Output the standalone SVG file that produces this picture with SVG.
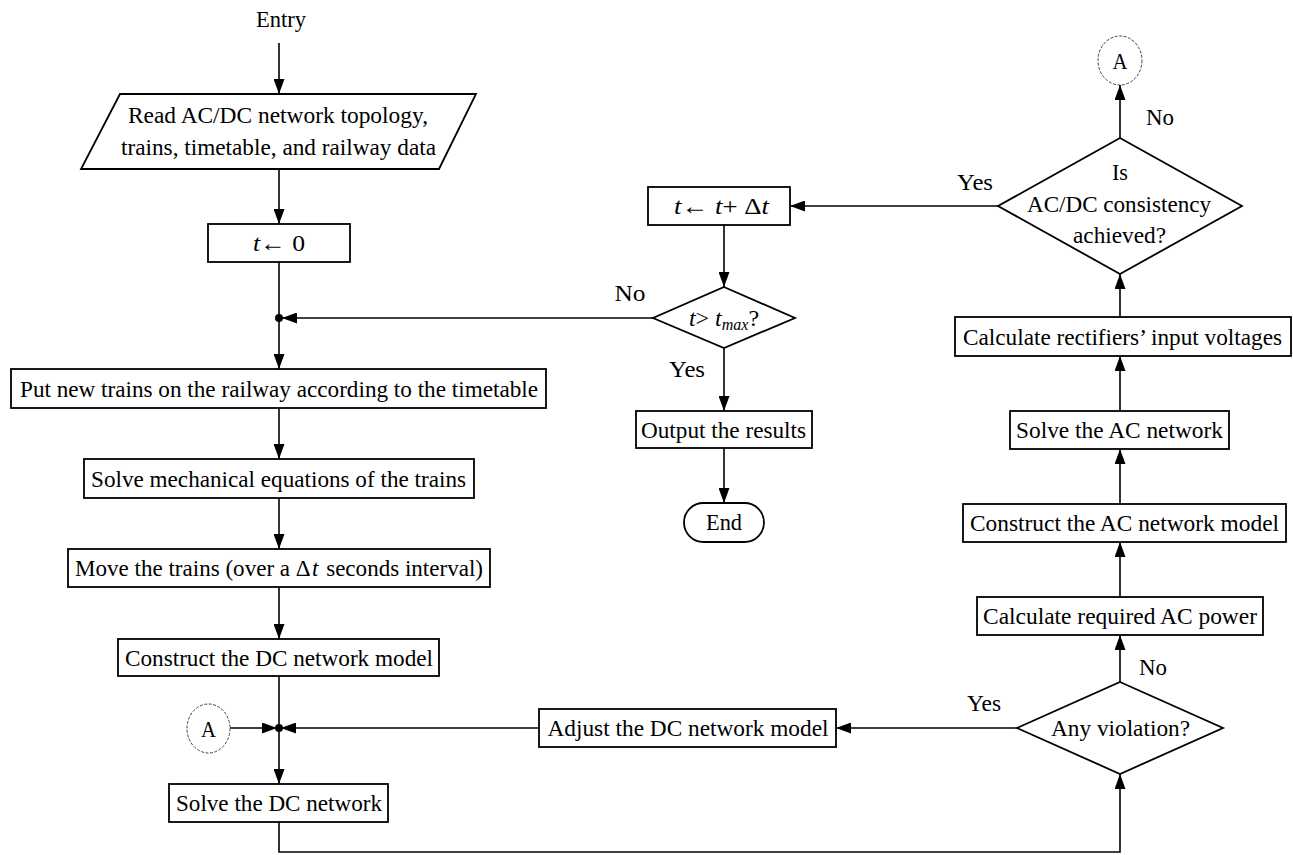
<svg xmlns="http://www.w3.org/2000/svg" width="1293" height="855" viewBox="0 0 1293 855">
<style>
text{font-family:"Liberation Serif","Times New Roman",serif;font-size:24px;fill:#000;text-anchor:middle}
.b{fill:#fff;stroke:#000;stroke-width:1.8}
.c{fill:none;stroke:#000;stroke-width:1.6}
.con{fill:#fff;stroke:#444;stroke-width:1;stroke-dasharray:3 1.5}
.i{font-style:italic}
</style>
<defs>
<marker id="arr" viewBox="0 0 15 11" refX="15" refY="5.5" markerWidth="15" markerHeight="11" orient="auto" markerUnits="userSpaceOnUse">
<path d="M0,0 L15,5.5 L0,11 Z" fill="#000"/>
</marker>
</defs>
<rect width="1293" height="855" fill="#fff"/>
<g id="connectors">
<path class="c" d="M279,43 V94" marker-end="url(#arr)"/>
<path class="c" d="M279,169 V224" marker-end="url(#arr)"/>
<path class="c" d="M279,262 V369" marker-end="url(#arr)"/>
<path class="c" d="M653,318 H282" marker-end="url(#arr)"/>
<path class="c" d="M279,408 V459" marker-end="url(#arr)"/>
<path class="c" d="M279,498 V549" marker-end="url(#arr)"/>
<path class="c" d="M279,587 V639" marker-end="url(#arr)"/>
<path class="c" d="M279,676 V784" marker-end="url(#arr)"/>
<path class="c" d="M230,728 H277" marker-end="url(#arr)"/>
<path class="c" d="M539,728 H281" marker-end="url(#arr)"/>
<path class="c" d="M279,822 V852 H1120 V774" marker-end="url(#arr)"/>
<path class="c" d="M1017,728 H836" marker-end="url(#arr)"/>
<path class="c" d="M1120,682 V635" marker-end="url(#arr)"/>
<path class="c" d="M1120,597 V542" marker-end="url(#arr)"/>
<path class="c" d="M1120,504 V449" marker-end="url(#arr)"/>
<path class="c" d="M1120,411 V356" marker-end="url(#arr)"/>
<path class="c" d="M1120,317 V274" marker-end="url(#arr)"/>
<path class="c" d="M1120,138 V85" marker-end="url(#arr)"/>
<path class="c" d="M998,206 H790" marker-end="url(#arr)"/>
<path class="c" d="M724,225 V287" marker-end="url(#arr)"/>
<path class="c" d="M724,348 V411" marker-end="url(#arr)"/>
<path class="c" d="M724,448 V503" marker-end="url(#arr)"/>
<circle cx="279" cy="318" r="4" fill="#000"/>
<circle cx="279" cy="728" r="4" fill="#000"/>
</g>
<g id="labels">
<text x="630" y="301" textLength="31" lengthAdjust="spacingAndGlyphs">No</text>
<text x="687" y="377" textLength="36" lengthAdjust="spacingAndGlyphs">Yes</text>
<text x="975" y="190" textLength="36" lengthAdjust="spacingAndGlyphs">Yes</text>
<text x="1160" y="125" textLength="28" lengthAdjust="spacingAndGlyphs">No</text>
<text x="1153" y="675" textLength="28" lengthAdjust="spacingAndGlyphs">No</text>
<text x="984" y="711" textLength="34" lengthAdjust="spacingAndGlyphs">Yes</text>
</g>
<g id="entry"><text x="281" y="27" textLength="50" lengthAdjust="spacingAndGlyphs">Entry</text></g>
<g id="read">
<polygon class="b" points="120,94 476,94 439,169 81,169"/>
<text x="278" y="123" textLength="300" lengthAdjust="spacingAndGlyphs">Read AC/DC network topology,</text>
<text x="278.5" y="155" textLength="315" lengthAdjust="spacingAndGlyphs">trains, timetable, and railway data</text>
</g>
<g id="t0">
<rect class="b" x="208" y="224" width="142" height="38"/>
<text x="279" y="251" textLength="52" lengthAdjust="spacingAndGlyphs"><tspan class="i">t</tspan>← 0</text>
</g>
<g id="putnew">
<rect class="b" x="11" y="369" width="535" height="39"/>
<text x="279" y="397" textLength="518" lengthAdjust="spacingAndGlyphs">Put new trains on the railway according to the timetable</text>
</g>
<g id="solvemech">
<rect class="b" x="84" y="459" width="390" height="39"/>
<text x="278.5" y="487" textLength="375" lengthAdjust="spacingAndGlyphs">Solve mechanical equations of the trains</text>
</g>
<g id="move">
<rect class="b" x="68" y="549" width="422" height="38"/>
<text x="279" y="576" textLength="408" lengthAdjust="spacingAndGlyphs">Move the trains (over a Δ<tspan class="i" dx="1.5">t</tspan><tspan dx="2"> seconds interval)</tspan></text>
</g>
<g id="constructdc">
<rect class="b" x="118" y="639" width="321" height="37"/>
<text x="279" y="666" textLength="308" lengthAdjust="spacingAndGlyphs">Construct the DC network model</text>
</g>
<g id="connA1">
<ellipse class="con" cx="208.5" cy="728.5" rx="21.5" ry="24.5"/>
<text x="208.5" y="737" textLength="15" lengthAdjust="spacingAndGlyphs">A</text>
</g>
<g id="solvedc">
<rect class="b" x="169" y="784" width="219" height="38"/>
<text x="279" y="811" textLength="206" lengthAdjust="spacingAndGlyphs">Solve the DC network</text>
</g>
<g id="adjust">
<rect class="b" x="539" y="709" width="297" height="38"/>
<text x="688" y="736" textLength="281" lengthAdjust="spacingAndGlyphs">Adjust the DC network model</text>
</g>
<g id="violation">
<polygon class="b" points="1120,682 1223,728 1120,774 1017,728"/>
<text x="1120.5" y="736" textLength="139" lengthAdjust="spacingAndGlyphs">Any violation?</text>
</g>
<g id="calcreq">
<rect class="b" x="977" y="597" width="286" height="38"/>
<text x="1120" y="624" textLength="274" lengthAdjust="spacingAndGlyphs">Calculate required AC power</text>
</g>
<g id="constructac">
<rect class="b" x="963" y="504" width="323" height="38"/>
<text x="1124.5" y="531" font-size="23" textLength="309" lengthAdjust="spacingAndGlyphs">Construct the AC network model</text>
</g>
<g id="solveac">
<rect class="b" x="1010" y="411" width="219" height="38"/>
<text x="1119.5" y="438" textLength="207" lengthAdjust="spacingAndGlyphs">Solve the AC network</text>
</g>
<g id="calcrect">
<rect class="b" x="955" y="317" width="336" height="39"/>
<text x="1122.5" y="345" font-size="23" textLength="319" lengthAdjust="spacingAndGlyphs">Calculate rectifiers’ input voltages</text>
</g>
<g id="consistency">
<polygon class="b" points="1120,138 1242,206 1120,274 998,206"/>
<text x="1120" y="180" textLength="16" lengthAdjust="spacingAndGlyphs">Is</text>
<text x="1119" y="212" textLength="184" lengthAdjust="spacingAndGlyphs">AC/DC consistency</text>
<text x="1119.5" y="243" textLength="93" lengthAdjust="spacingAndGlyphs">achieved?</text>
</g>
<g id="connA2">
<ellipse class="con" cx="1120" cy="60.5" rx="22" ry="24.5"/>
<text x="1120" y="69" textLength="15" lengthAdjust="spacingAndGlyphs">A</text>
</g>
<g id="tinc">
<rect class="b" x="648" y="187" width="142" height="38"/>
<text x="721.5" y="214" textLength="95" lengthAdjust="spacingAndGlyphs"><tspan class="i">t</tspan>← <tspan class="i">t</tspan>+ Δ<tspan class="i">t</tspan></text>
</g>
<g id="tmax">
<polygon class="b" points="724,287 795,318 724,348 653,318"/>
<text x="724" y="326"><tspan class="i">t</tspan>&gt; <tspan class="i">t</tspan><tspan class="i" font-size="16" dy="4">max</tspan><tspan dy="-4">?</tspan></text>
</g>
<g id="output">
<rect class="b" x="636" y="411" width="176" height="37"/>
<text x="723.5" y="438" textLength="165" lengthAdjust="spacingAndGlyphs">Output the results</text>
</g>
<g id="end">
<rect class="b" x="684" y="503" width="80" height="39" rx="19.5" ry="19.5"/>
<text x="724" y="530" textLength="36" lengthAdjust="spacingAndGlyphs">End</text>
</g>
</svg>
